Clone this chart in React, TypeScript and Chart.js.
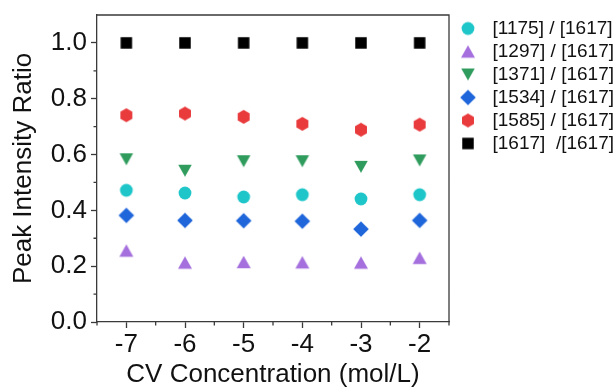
import React, { useEffect, useRef } from 'react';
import { Chart, registerables } from 'chart.js';

Chart.register(...registerables);

// ---- data ----
const concentrations = [-7, -6, -5, -4, -3, -2];
const ratio1175 = [0.472, 0.462, 0.448, 0.456, 0.441, 0.456];
const ratio1297 = [0.256, 0.213, 0.215, 0.214, 0.213, 0.23];
const ratio1371 = [0.583, 0.542, 0.576, 0.576, 0.556, 0.579];
const ratio1534 = [0.382, 0.364, 0.363, 0.361, 0.333, 0.364];
const ratio1585 = [0.741, 0.747, 0.735, 0.71, 0.689, 0.707];
const ratio1617 = [1.0, 1.0, 1.0, 1.0, 1.0, 1.0];
const seriesLabels = [
  '[1175] / [1617]',
  '[1297] / [1617]',
  '[1371] / [1617]',
  '[1534] / [1617]',
  '[1585] / [1617]',
  '[1617]  /[1617]',
];
const xTickValues = [-7, -6, -5, -4, -3, -2];
const yTickValues = [0, 0.2, 0.4, 0.6, 0.8, 1.0];
const xMinorValues = [-7.5, -6.5, -5.5, -4.5, -3.5, -2.5, -1.5];
const yMinorValues = [0.1, 0.3, 0.5, 0.7, 0.9];
const xTitle = 'CV Concentration (mol/L)';
const yTitle = 'Peak Intensity Ratio';

const AXIS_COLOR = '#3a3a3a';
const TEXT_COLOR = '#111111';
const FONT = '"Liberation Sans", Arial, Helvetica, sans-serif';

type Shape = 'circle' | 'triUp' | 'triDown' | 'diamond' | 'hexagon' | 'square';

function makeMarker(shape: Shape, color: string): HTMLCanvasElement {
  const size = 18;
  const c = document.createElement('canvas');
  c.width = size;
  c.height = size;
  const g = c.getContext('2d')!;
  const cx = size / 2;
  const cy = size / 2;
  g.fillStyle = color;
  g.beginPath();
  if (shape === 'circle') {
    g.arc(cx, cy, 6.4, 0, Math.PI * 2);
  } else if (shape === 'triUp') {
    const w = 14, h = 12.5;
    g.moveTo(cx, cy - h / 2);
    g.lineTo(cx + w / 2, cy + h / 2);
    g.lineTo(cx - w / 2, cy + h / 2);
  } else if (shape === 'triDown') {
    const w = 13.5, h = 12;
    g.moveTo(cx - w / 2, cy - h / 2);
    g.lineTo(cx + w / 2, cy - h / 2);
    g.lineTo(cx, cy + h / 2);
  } else if (shape === 'diamond') {
    const r = 7.8;
    g.moveTo(cx, cy - r);
    g.lineTo(cx + r, cy);
    g.lineTo(cx, cy + r);
    g.lineTo(cx - r, cy);
  } else if (shape === 'hexagon') {
    const r = 6.9;
    for (let k = 0; k < 6; k++) {
      const a = -Math.PI / 2 + (k * Math.PI) / 3;
      const px = cx + r * Math.cos(a);
      const py = cy + r * Math.sin(a);
      if (k === 0) g.moveTo(px, py);
      else g.lineTo(px, py);
    }
  } else {
    const s = 11.5;
    g.rect(cx - s / 2, cy - s / 2, s, s);
  }
  g.closePath();
  g.fill();
  return c;
}

const framePlugin = {
  id: 'frameAndMinorTicks',
  afterDraw(chart: any) {
    const { ctx, chartArea } = chart;
    const { left, right, top, bottom } = chartArea;
    const xs = chart.scales.x;
    const ys = chart.scales.y;
    ctx.save();
    ctx.strokeStyle = AXIS_COLOR;
    ctx.lineWidth = 1.3;
    ctx.beginPath();
    ctx.moveTo(left, top);
    ctx.lineTo(right, top);
    ctx.lineTo(right, bottom);
    for (const v of xMinorValues) {
      const px = xs.getPixelForValue(v);
      ctx.moveTo(px, bottom);
      ctx.lineTo(px, bottom + 3.5);
    }
    for (const v of yMinorValues) {
      const py = ys.getPixelForValue(v);
      ctx.moveTo(left, py);
      ctx.lineTo(left - 3.5, py);
    }
    ctx.stroke();
    ctx.restore();
  },
};

export default function App() {
  const ref = useRef<HTMLCanvasElement | null>(null);

  useEffect(() => {
    if (!ref.current) return;
    const colors = ['#1ec6c9', '#a570de', '#2f9c5d', '#1f66db', '#e93a3c', '#000000'];
    const shapes: Shape[] = ['circle', 'triUp', 'triDown', 'diamond', 'hexagon', 'square'];
    const values = [ratio1175, ratio1297, ratio1371, ratio1534, ratio1585, ratio1617];
    const datasets = values.map((vals, i) => {
      const marker = makeMarker(shapes[i], colors[i]);
      return {
        label: seriesLabels[i],
        data: concentrations.map((x, j) => ({ x, y: vals[j] })),
        pointStyle: marker,
        backgroundColor: colors[i],
        borderColor: colors[i],
        showLine: false,
        pointRadius: 7,
        pointHoverRadius: 7,
      };
    });

    const chart = new Chart(ref.current, {
      type: 'scatter',
      data: { datasets },
      options: {
        animation: false,
        responsive: false,
        devicePixelRatio: 1,
        layout: { padding: { top: 15, left: 0, right: 0, bottom: 0 } },
        plugins: {
          tooltip: { enabled: false },
          legend: {
            position: 'right',
            align: 'start',
            maxWidth: 167,
            labels: {
              usePointStyle: true,
              pointStyleWidth: 30,
              boxHeight: 14,
              padding: 4,
              color: TEXT_COLOR,
              font: { family: FONT, size: 19 },
            },
          },
        },
        scales: {
          x: {
            type: 'linear',
            min: -7.5,
            max: -1.5,
            afterBuildTicks: (s: any) => {
              s.ticks = xTickValues.map((v) => ({ value: v }));
            },
            afterFit: (s: any) => {
              s.height = 68;
              s.paddingLeft = 0;
              s.paddingRight = 0;
            },
            grid: {
              display: true,
              drawOnChartArea: false,
              drawTicks: true,
              tickLength: 6,
              tickColor: AXIS_COLOR,
              tickWidth: 1.3,
            },
            border: { display: true, color: AXIS_COLOR, width: 1.3 },
            ticks: {
              color: TEXT_COLOR,
              padding: 1,
              font: { family: FONT, size: 26 },
              callback: (v: any) => String(v),
            },
            title: {
              display: true,
              text: xTitle,
              color: TEXT_COLOR,
              font: { family: FONT, size: 26 },
              padding: { top: 0, bottom: 0 },
            },
          },
          y: {
            type: 'linear',
            min: 0,
            max: 1.1,
            afterBuildTicks: (s: any) => {
              s.ticks = yTickValues.map((v) => ({ value: v }));
            },
            afterFit: (s: any) => {
              s.width = 97;
              s.paddingTop = 0;
              s.paddingBottom = 0;
            },
            grid: {
              display: true,
              drawOnChartArea: false,
              drawTicks: true,
              tickLength: 6,
              tickColor: AXIS_COLOR,
              tickWidth: 1.3,
            },
            border: { display: true, color: AXIS_COLOR, width: 1.3 },
            ticks: {
              color: TEXT_COLOR,
              padding: 4,
              font: { family: FONT, size: 26 },
              callback: (v: any) => Number(v).toFixed(1),
            },
            title: {
              display: true,
              text: yTitle,
              color: TEXT_COLOR,
              font: { family: FONT, size: 26 },
              padding: { top: 8, bottom: 0 },
            },
          },
        },
      },
      plugins: [framePlugin],
    } as any);

    return () => chart.destroy();
  }, []);

  return (
    <div style={{ position: 'fixed', left: 0, top: 0, width: 616, height: 390, background: '#fff' }}>
      <canvas ref={ref} width={616} height={390} style={{ display: 'block', width: 616, height: 390 }} />
    </div>
  );
}
